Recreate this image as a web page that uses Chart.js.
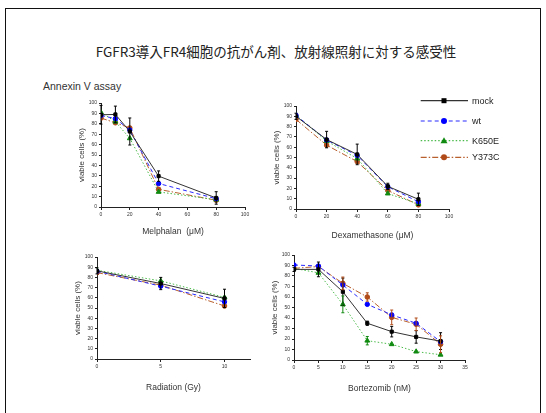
<!DOCTYPE html>
<html>
<head>
<meta charset="utf-8">
<script src="https://cdn.jsdelivr.net/npm/chart.js@4.4.1/dist/chart.umd.min.js"></script>
<style>
  body { margin: 0; width: 546px; height: 413px; background: #fff; position: relative; overflow: hidden;
         font-family: "Liberation Sans", Arial, sans-serif; }
  #frame { position: absolute; left: 5px; top: 8px; width: 534px; height: 420px; border: 1.5px solid #111; }
  #title { position: absolute; left: 0; width: 552px; top: 41px; text-align: center;
           font-family: "Noto Sans CJK JP", sans-serif; font-size: 13.5px; color: #222; }
  #assay { position: absolute; left: 43px; top: 80px; font-size: 10.5px; color: #333; }
  canvas { position: absolute; }
  #legend { position: absolute; left: 415px; top: 92px; }
</style>
</head>
<body>
<div id="frame"></div>
<div id="title">FGFR3導入FR4細胞の抗がん剤、放射線照射に対する感受性</div>
<div id="assay">Annexin V assay</div>
<canvas id="melphalan"></canvas>
<canvas id="dexamethasone"></canvas>
<canvas id="radiation"></canvas>
<canvas id="bortezomib"></canvas>
<svg id="legend" width="120" height="75"></svg>

<script>
// series names / colours
const seriesNames = ['mock', 'wt', 'K650E', 'Y373C'];
const seriesColors = ['#333333', '#2a2aff', '#4cbb4c', '#b8602e'];
const markerColors = ['#000000', '#0000ff', '#108a10', '#b04a18'];

// Melphalan (uM)
const melDose = [0, 10, 20, 40, 80];
const melMock = [88.7, 89, 72.6, 29.7, 8.7];
const melWt = [88, 85, 74, 22.6, 8];
const melK650E = [91, 82, 66, 14.5, 7];
const melY373C = [85.5, 81, 76, 17, 6.5];
const melMockErr = [9, 8, 13, 5, 6];
const melTicks = [0, 100, 20];

// Dexamethasone (uM)
const dexDose = [0, 20, 40, 60, 80];
const dexMock = [90, 67.4, 53, 22, 9.4];
const dexWt = [91, 67, 52, 21.6, 7];
const dexK650E = [91, 66, 49, 15, 5];
const dexY373C = [87, 62, 46, 18, 4];
const dexMockErr = [3, 8, 10, 3, 6];
const dexTicks = [0, 100, 20];

// Radiation (Gy)
const radDose = [0, 5, 10];
const radMock = [86.4, 74, 59.4];
const radWt = [86, 71.4, 56];
const radK650E = [87, 76.6, 60.4];
const radY373C = [84.7, 72.4, 52];
const radMockErr = [3, 6, 9];
const radTicks = [0, 12, 5];

// Bortezomib (nM)
const borDose = [0, 5, 10, 15, 20, 25, 30];
const borMock = [86.3, 86.3, 65, 35, 27, 22, 18];
const borWt = [90.5, 89.5, 71.4, 53, 43, 35, 17.5];
const borK650E = [87.3, 83, 53, 18.4, 15, 8, 5];
const borY373C = [87.3, 89, 73, 60, 40.6, 34, 15];
const borMockErr = [2, 7, 13, 2, 5, 6, 8];
const borK650EErr = [0, 0, 8, 4, 0, 0, 0];
const borY373CErr = [0, 0, 6, 4, 7, 6, 8];
const borTicks = [0, 35, 5];

Chart.defaults.font.family = '"Liberation Sans", Arial, sans-serif';
Chart.defaults.color = '#222';

const lineDash = [[], [4, 3], [1.5, 2], [6, 2, 1.5, 2]];
const pointStyles = ['rect', 'circle', 'triangle', 'circle'];
const pointRadius = [2.2, 2.2, 2.8, 2.3];

// draws vertical error bars from ds.err using the chart's y scale
const errorBars = {
  id: 'errorBars',
  afterDatasetsDraw(chart) {
    const ctx = chart.ctx;
    const yScale = chart.scales.y;
    chart.data.datasets.forEach((ds, i) => {
      if (!ds.err) return;
      const meta = chart.getDatasetMeta(i);
      ctx.save();
      ctx.strokeStyle = ds.errColor;
      ctx.lineWidth = 1;
      meta.data.forEach((pt, j) => {
        const e = ds.err[j];
        if (!e) return;
        const v = ds.data[j].y;
        const top = yScale.getPixelForValue(v + e);
        const bot = yScale.getPixelForValue(v - e);
        ctx.beginPath();
        ctx.moveTo(pt.x, top); ctx.lineTo(pt.x, bot);
        ctx.moveTo(pt.x - 1.5, top); ctx.lineTo(pt.x + 1.5, top);
        ctx.moveTo(pt.x - 1.5, bot); ctx.lineTo(pt.x + 1.5, bot);
        ctx.stroke();
      });
      ctx.restore();
    });
  }
};

function makeChart(id, box, xTitle, dose, values, errs, ticks) {
  // box: axis line x, plot top, plot bottom, x axis end, x-axis box height
  const yW = 26, padTop = 6, padRight = 8;
  const canvas = document.getElementById(id);
  canvas.width = yW + (box.right - box.x) + padRight;
  canvas.height = padTop + (box.bottom - box.top) + box.h;
  canvas.style.left = (box.x - yW) + 'px';
  canvas.style.top = (box.top - padTop) + 'px';

  const datasets = values.map((vals, i) => ({
    label: seriesNames[i],
    data: dose.map((d, j) => ({ x: d, y: vals[j] })),
    borderColor: seriesColors[i],
    backgroundColor: markerColors[i],
    pointBorderColor: markerColors[i],
    borderWidth: 1,
    borderDash: lineDash[i],
    pointStyle: pointStyles[i],
    pointRadius: pointRadius[i],
    tension: 0,
    err: errs[i],
    errColor: i === 0 ? '#000' : markerColors[i]
  }));

  return new Chart(canvas, {
    type: 'line',
    data: { datasets },
    plugins: [errorBars],
    options: {
      responsive: false,
      animation: false,
      layout: { padding: { top: padTop, right: padRight, left: 0, bottom: 0 } },
      plugins: { legend: { display: false }, tooltip: { enabled: false } },
      scales: {
        x: {
          type: 'linear', min: ticks[0], max: ticks[1],
          border: { color: '#222', width: 1 },
          grid: { drawOnChartArea: false, tickLength: 3, color: '#222' },
          ticks: { stepSize: ticks[2], includeBounds: false, autoSkip: false, maxRotation: 0,
                   font: { size: 5 }, color: '#333', padding: 2 },
          title: { display: true, text: xTitle, font: { size: 8.5 }, color: '#333',
                   padding: { top: 2, bottom: 2 } },
          afterFit: s => { s.height = box.h; }
        },
        y: {
          min: 0, max: 100,
          border: { color: '#222', width: 1 },
          grid: { drawOnChartArea: false, tickLength: 2, color: '#222' },
          ticks: { stepSize: 10, autoSkip: false, font: { size: 5 }, color: '#333', padding: 2 },
          title: { display: true, text: 'viable cells (%)', font: { size: 8 }, color: '#333',
                   padding: { top: 2, bottom: 2 } },
          afterFit: s => { s.width = yW; }
        }
      }
    }
  });
}

makeChart('melphalan', { x: 101, top: 103, bottom: 207, right: 245, h: 32 }, 'Melphalan  (μM)',
  melDose, [melMock, melWt, melK650E, melY373C], [melMockErr], melTicks);
makeChart('dexamethasone', { x: 296, top: 106, bottom: 209, right: 449, h: 34 }, 'Dexamethasone (μM)',
  dexDose, [dexMock, dexWt, dexK650E, dexY373C], [dexMockErr], dexTicks);
makeChart('radiation', { x: 97, top: 257, bottom: 359, right: 250, h: 36 }, 'Radiation (Gy)',
  radDose, [radMock, radWt, radK650E, radY373C], [radMockErr], radTicks);
makeChart('bortezomib', { x: 294, top: 255, bottom: 360, right: 465, h: 36 }, 'Bortezomib (nM)',
  borDose, [borMock, borWt, borK650E, borY373C], [borMockErr, null, borK650EErr, borY373CErr], borTicks);

// legend (svg, real text)
const svg = document.getElementById('legend');
const NS = 'http://www.w3.org/2000/svg';
const rowY = [8.7, 29, 48.7, 65.3];
seriesNames.forEach((name, i) => {
  const y = rowY[i];
  const line = document.createElementNS(NS, 'line');
  line.setAttribute('x1', 5.7); line.setAttribute('x2', 53);
  line.setAttribute('y1', y); line.setAttribute('y2', y);
  line.setAttribute('stroke', seriesColors[i]);
  line.setAttribute('stroke-width', 1.2);
  if (lineDash[i].length) line.setAttribute('stroke-dasharray', lineDash[i].join(' '));
  svg.appendChild(line);

  let m;
  if (pointStyles[i] === 'rect') {
    m = document.createElementNS(NS, 'rect');
    m.setAttribute('x', 26.5); m.setAttribute('y', y - 2.5);
    m.setAttribute('width', 5); m.setAttribute('height', 5);
  } else if (pointStyles[i] === 'triangle') {
    m = document.createElementNS(NS, 'polygon');
    m.setAttribute('points', `29,${y - 3.5} 25.5,${y + 2.5} 32.5,${y + 2.5}`);
  } else {
    m = document.createElementNS(NS, 'circle');
    m.setAttribute('cx', 29); m.setAttribute('cy', y); m.setAttribute('r', 3);
  }
  m.setAttribute('fill', markerColors[i]);
  svg.appendChild(m);

  const t = document.createElementNS(NS, 'text');
  t.setAttribute('x', 57); t.setAttribute('y', y + 3);
  t.setAttribute('font-size', '9');
  t.setAttribute('font-family', 'Liberation Sans, Arial, sans-serif');
  t.setAttribute('fill', '#222');
  t.textContent = name;
  svg.appendChild(t);
});
</script>
</body>
</html>
